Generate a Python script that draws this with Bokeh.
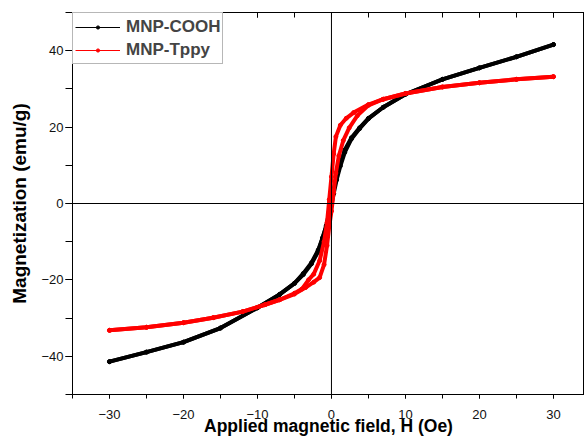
from bokeh.plotting import figure
from bokeh.models import (Range1d, LinearAxis, SingleIntervalTicker, Span, Legend,
                          LegendItem, CustomJSTickFormatter)
from bokeh.embed import file_html
from bokeh.resources import INLINE

# ---- data (H in Oe, M in emu/g) ----
cooh_desc_h = [30, 25, 20, 15, 10, 7, 5, 3.8, 2.7, 1.8, 1.2, 0.7, 0.3, 0,
               -0.3, -0.7, -1.2, -1.8, -2.7, -3.8, -5, -7, -10, -15, -20, -25, -30]
cooh_desc_m = [41.6, 38.4, 35.5, 32.5, 28.6, 25.2, 22.3, 19.8, 17.2, 14.0, 10.5, 7.0, 3.8, 0.8,
               -2.2, -5.8, -9.0, -12.6, -15.8, -18.6, -20.9, -23.8, -27.3, -32.6, -36.3, -38.9, -41.4]
cooh_asc_h = [-30, -25, -20, -15, -10, -7, -5, -3.8, -2.7, -1.8, -1.2, -0.7, -0.3, 0,
              0.3, 0.7, 1.2, 1.8, 2.7, 3.8, 5, 7, 10, 15, 20, 25, 30]
cooh_asc_m = [-41.4, -38.9, -36.3, -32.6, -27.3, -23.8, -20.9, -18.3, -15.5, -12.2, -9.0, -6.0, -3.0, -0.3,
              2.6, 6.2, 9.8, 13.4, 16.9, 19.6, 22.2, 25.2, 28.6, 32.5, 35.5, 38.4, 41.6]

tppy_desc_h = [30, 25, 20, 15, 10, 7, 5, 3, 2, 1.2, 0.6, 0.3, 0, -0.3, -0.6, -1.0, -1.6,
               -2.4, -3.1, -4, -5, -7, -9, -12, -16, -20, -25, -30]
tppy_desc_m = [33.2, 32.5, 31.6, 30.5, 28.8, 27.3, 25.9, 23.8, 22.3, 20.5, 17.5, 13.0, 7.0, 1.0,
               -5.0, -10.0, -15.0, -18.5, -20.0, -22.4, -23.5, -25.2, -26.5, -28.3, -29.9, -31.2, -32.4, -33.2]
tppy_asc_h = [-30, -25, -20, -16, -12, -9, -7, -5, -3.5, -2.4, -1.6, -1.0, -0.6, -0.3, 0,
              0.3, 0.6, 1.0, 1.6, 2.4, 3.5, 5, 7, 10, 15, 20, 25, 30]
tppy_asc_m = [-33.2, -32.4, -31.2, -29.9, -28.3, -26.5, -25.2, -23.7, -22.0, -20.6, -19.4, -16.0,
              -11.0, -6.0, -2.0, 3.0, 8.0, 12.5, 16.5, 19.8, 23.0, 25.7, 27.3, 28.8, 30.5, 31.6, 32.5, 33.2]

series_names = ["MNP-COOH", "MNP-Tppy"]
series_colors = ["#000000", "#ff0000"]

FONT = "Liberation Sans"

p = figure(width=584, height=441, output_backend="svg", toolbar_location=None,
           x_range=Range1d(-35, 34.2), y_range=Range1d(-50, 50),
           x_axis_label="Applied magnetic field, H (Oe)",
           y_axis_label="Magnetization (emu/g)",
           min_border_left=72, min_border_top=12, min_border_right=0, min_border_bottom=47)
p.grid.visible = False
p.outline_line_color = "#000000"
p.outline_line_width = 1
p.background_fill_color = "white"
p.border_fill_color = "white"

xt = SingleIntervalTicker(interval=10, num_minor_ticks=2)
yt = SingleIntervalTicker(interval=20, num_minor_ticks=2)

xa = p.xaxis[0]
xa.ticker = xt
xa.major_tick_out = 4
xa.major_tick_in = 0
xa.minor_tick_out = 4
xa.minor_tick_in = 0
xa.major_label_standoff = 11
xa.axis_label_standoff = -6
ya = p.yaxis[0]
ya.ticker = yt
ya.major_tick_out = 7
ya.major_tick_in = 0
ya.minor_tick_out = 7
ya.minor_tick_in = 0
ya.major_label_standoff = 2
ya.axis_label_standoff = 8

for ax in (xa, ya):
    ax.axis_line_color = "#000000"
    ax.major_tick_line_color = "#000000"
    ax.minor_tick_line_color = "#000000"
    ax.major_label_text_font = FONT
    ax.major_label_text_font_size = "13px"
    ax.major_label_text_color = "#111111"
    ax.axis_label_text_font = FONT
    ax.axis_label_text_font_style = "bold"
    ax.axis_label_text_color = "#000000"
xa.axis_label_text_font_size = "17.5px"
ya.axis_label_text_font_size = "19px"

blank = CustomJSTickFormatter(code="return '';")
top = LinearAxis(ticker=SingleIntervalTicker(interval=10, num_minor_ticks=2),
                 formatter=blank,
                 major_tick_in=5, major_tick_out=0, minor_tick_in=5, minor_tick_out=0,
                 major_label_text_font_size="1px", major_label_standoff=0,
                 axis_line_color="#000000")
p.add_layout(top, "above")

p.add_layout(Span(location=0, dimension="height", line_color="#000000", line_width=1))
p.add_layout(Span(location=0, dimension="width", line_color="#000000", line_width=1))

data = [
    (cooh_desc_h, cooh_desc_m, cooh_asc_h, cooh_asc_m),
    (tppy_desc_h, tppy_desc_m, tppy_asc_h, tppy_asc_m),
]
items = []
for (dh, dm, ah, am), name, col in zip(data, series_names, series_colors):
    p.line(dh, dm, line_color=col, line_width=4, line_join="round", line_cap="round")
    p.line(ah, am, line_color=col, line_width=4, line_join="round", line_cap="round")
    thin = p.line(dh, dm, line_color=col, line_width=1)
    pts1 = p.scatter(dh, dm, marker="circle", size=4, fill_color=col, line_color=col)
    p.scatter(ah, am, marker="circle", size=4, fill_color=col, line_color=col)
    items.append(LegendItem(label=name, renderers=[thin, pts1]))

legend = Legend(items=items, location="top_left", margin=0, padding=2, spacing=0,
                glyph_width=45, glyph_height=8, label_standoff=6,
                label_text_font=FONT, label_text_font_style="bold",
                label_text_font_size="17px", label_height=23,
                border_line_color="#707070", border_line_width=1,
                background_fill_color="white", background_fill_alpha=1)
p.add_layout(legend)

open("out.html", "w").write(file_html(p, INLINE))
